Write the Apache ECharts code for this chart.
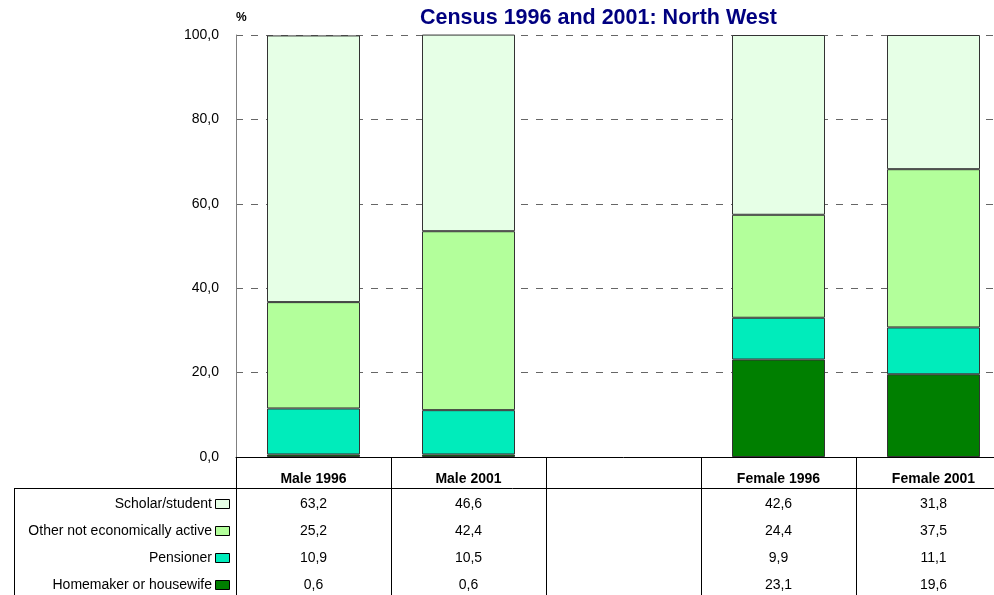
<!DOCTYPE html>
<html>
<head>
<meta charset="utf-8">
<script src="https://cdn.jsdelivr.net/npm/echarts@6/dist/echarts.min.js"></script>
<style>
  html, body { margin: 0; padding: 0; background: #fff; overflow: hidden; }
  /* a bit wider than the window: the last column runs past the right edge */
  #main { width: 1011px; height: 595px; }
</style>
</head>
<body>
<div id="main"></div>
<script>
// categories (the empty one is the gap between male and female)
var categories = ['Male 1996', 'Male 2001', '', 'Female 1996', 'Female 2001'];

// series values, %
var homemaker = [0.6, 0.6, null, 23.1, 19.6];
var pensioner = [10.9, 10.5, null, 9.9, 11.1];
var otherInactive = [25.2, 42.4, null, 24.4, 37.5];
var scholar = [63.2, 46.6, null, 42.6, 31.8];

// stack order bottom -> top
var seriesNames = ['Homemaker or housewife', 'Pensioner', 'Other not economically active', 'Scholar/student'];
var seriesData = [homemaker, pensioner, otherInactive, scholar];
var seriesColors = ['#007F00', '#00ECBB', '#B3FF9B', '#E6FFE6'];

// y axis
var yMin = 0, yMax = 100, yStep = 20;

var font = 'Liberation Sans, Arial, sans-serif';
var chart = echarts.init(document.getElementById('main'));

function fmt(v) {
  return v == null ? '' : v.toFixed(1).replace('.', ',');
}

chart.setOption({
  animation: false,
  title: {
    text: 'Census 1996 and 2001: North West',
    left: 415,
    top: 2,
    textStyle: { color: '#000080', fontSize: 21.5, fontWeight: 'bold', fontFamily: font }
  },
  grid: { left: 236, top: 35, right: 0, height: 422 },
  xAxis: {
    type: 'category',
    data: categories,
    axisLine: { lineStyle: { color: '#000', width: 1 } },
    axisTick: { show: false },
    axisLabel: { show: false }
  },
  yAxis: {
    type: 'value',
    min: yMin, max: yMax, interval: yStep,
    name: '%',
    nameGap: 11,
    nameTextStyle: { align: 'left', fontWeight: 'bold', fontSize: 12, color: '#000', fontFamily: font },
    axisLine: { show: true, lineStyle: { color: '#808080' } },
    axisTick: { show: false },
    axisLabel: {
      formatter: fmt,
      margin: 17,
      fontSize: 14, color: '#000', fontFamily: font
    },
    splitLine: { lineStyle: { color: '#666', type: [7, 8], width: 1 } }
  },
  series: seriesNames.map(function (name, i) {
    return {
      name: name,
      type: 'bar',
      stack: 'all',
      barWidth: '60%',
      data: seriesData[i],
      itemStyle: { color: seriesColors[i], borderColor: '#333', borderWidth: 1 }
    };
  })
});

// data table underneath, placed on the category axis positions
var c0 = chart.convertToPixel({ xAxisIndex: 0 }, 0);
var c1 = chart.convertToPixel({ xAxisIndex: 0 }, 1);
var band = c1 - c0;
var tableTop = 457, headerY = 479, ruleY = 488, rowY0 = 504, rowStep = 27;
var els = [];
var lineStyle = { stroke: '#000', lineWidth: 1 };

els.push({ type: 'line', shape: { x1: 14, y1: ruleY + 0.5, x2: 1011, y2: ruleY + 0.5 }, style: lineStyle });
els.push({ type: 'line', shape: { x1: 14.5, y1: ruleY, x2: 14.5, y2: 595 }, style: lineStyle });
for (var b = 0; b <= categories.length; b++) {
  var bx = Math.round(c0 - band / 2 + b * band) + 0.5;
  els.push({ type: 'line', shape: { x1: bx, y1: tableTop, x2: bx, y2: 595 }, style: lineStyle });
}

categories.forEach(function (cat, ci) {
  var cx = chart.convertToPixel({ xAxisIndex: 0 }, ci);
  els.push({
    type: 'text', x: cx, y: headerY,
    style: { text: cat, align: 'center', verticalAlign: 'middle', fontSize: 14, fontWeight: 'bold', fontFamily: font, fill: '#000' }
  });
});

// rows top -> bottom: reverse of the stack
for (var r = 0; r < seriesNames.length; r++) {
  var si = seriesNames.length - 1 - r;
  var ry = rowY0 + r * rowStep;
  els.push({
    type: 'text', x: 212, y: ry,
    style: { text: seriesNames[si], align: 'right', verticalAlign: 'middle', fontSize: 14, fontFamily: font, fill: '#000' }
  });
  els.push({
    type: 'rect', shape: { x: 215.5, y: ry - 4.5, width: 14, height: 9 },
    style: { fill: seriesColors[si], stroke: '#000', lineWidth: 1 }
  });
  seriesData[si].forEach(function (v, ci) {
    var cx = chart.convertToPixel({ xAxisIndex: 0 }, ci);
    els.push({
      type: 'text', x: cx, y: ry,
      style: { text: fmt(v), align: 'center', verticalAlign: 'middle', fontSize: 14, fontFamily: font, fill: '#000' }
    });
  });
}

chart.setOption({ graphic: els });
</script>
</body>
</html>
